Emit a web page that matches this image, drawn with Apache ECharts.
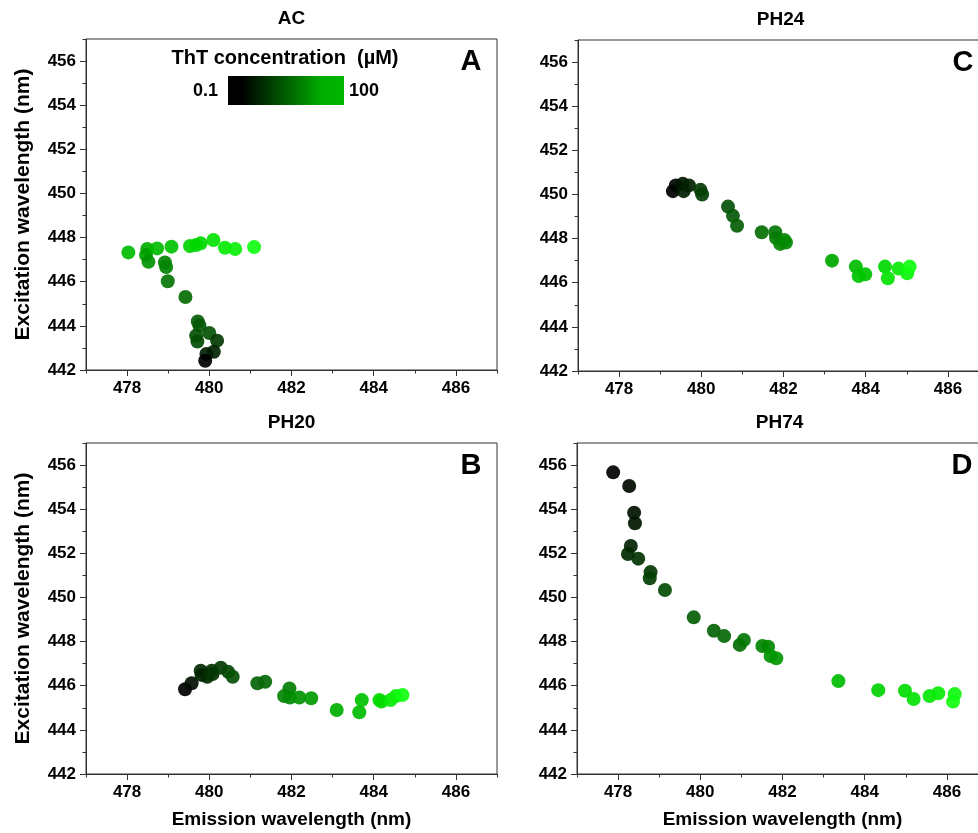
<!DOCTYPE html>
<html>
<head>
<meta charset="utf-8">
<script src="https://cdn.jsdelivr.net/npm/echarts@6/dist/echarts.min.js"></script>
<style>
  html, body { margin: 0; background: #fff; overflow: hidden; }
  #chart { width: 995px; height: 833px; }
</style>
</head>
<body>
<div id="chart"></div>
<script>
const xTicks = [478, 480, 482, 484, 486];
const xMinor = [477, 479, 481, 483, 485, 487];
const yTicks = [442, 444, 446, 448, 450, 452, 454, 456];
const yMinor = [443, 445, 447, 449, 451, 453, 455, 457];

// [emission nm, excitation nm, ThT level 0 (0.1 uM) .. 1 (100 uM)]
const acPoints = [
  [478.03, 447.33, 0.70], [478.49, 447.48, 0.65], [478.46, 447.21, 0.60],
  [478.52, 446.90, 0.55], [478.73, 447.51, 0.70], [479.08, 447.59, 0.72],
  [478.92, 446.87, 0.50], [478.95, 446.67, 0.50], [478.99, 446.02, 0.45],
  [479.42, 445.31, 0.42], [479.53, 447.62, 0.78], [479.68, 447.66, 0.80],
  [479.79, 447.74, 0.80], [480.10, 447.89, 0.85], [480.38, 447.54, 0.90],
  [480.63, 447.48, 0.92], [481.09, 447.57, 1.00], [479.72, 444.20, 0.35],
  [479.76, 444.02, 0.33], [480.00, 443.68, 0.30], [479.68, 443.56, 0.30],
  [479.71, 443.29, 0.28], [480.19, 443.33, 0.20], [480.11, 442.83, 0.12],
  [479.93, 442.73, 0.10], [479.90, 442.42, 0.00]
];
const ph24Points = [
  [479.31, 450.15, 0.00], [479.38, 450.41, 0.02], [479.55, 450.48, 0.08],
  [479.57, 450.15, 0.10], [479.70, 450.41, 0.12], [479.98, 450.21, 0.20],
  [480.02, 450.00, 0.22], [480.65, 449.45, 0.30], [480.77, 449.03, 0.33],
  [480.87, 448.58, 0.35], [481.47, 448.29, 0.42], [481.80, 448.29, 0.45],
  [481.82, 448.02, 0.47], [481.92, 447.76, 0.50], [482.02, 447.94, 0.50],
  [482.06, 447.82, 0.52], [483.18, 447.00, 0.62], [483.76, 446.73, 0.70],
  [483.83, 446.30, 0.72], [483.99, 446.38, 0.73], [484.47, 446.73, 0.80],
  [484.54, 446.20, 0.85], [484.80, 446.64, 0.88], [485.01, 446.43, 0.95],
  [485.07, 446.73, 1.00]
];
const ph20Points = [
  [479.41, 445.84, 0.00], [479.57, 446.11, 0.05], [479.79, 446.68, 0.15],
  [479.81, 446.49, 0.12], [479.95, 446.41, 0.14], [480.06, 446.68, 0.17],
  [480.08, 446.53, 0.18], [480.28, 446.82, 0.20], [480.46, 446.63, 0.25],
  [480.57, 446.41, 0.30], [481.17, 446.11, 0.38], [481.36, 446.18, 0.40],
  [481.82, 445.53, 0.50], [481.95, 445.88, 0.48], [481.96, 445.47, 0.52],
  [482.19, 445.47, 0.55], [482.48, 445.43, 0.58], [483.10, 444.90, 0.65],
  [483.65, 444.80, 0.70], [483.71, 445.35, 0.72], [484.14, 445.35, 0.80],
  [484.19, 445.28, 0.82], [484.41, 445.35, 0.88], [484.54, 445.53, 0.92],
  [484.70, 445.58, 1.00]
];
const ph74Points = [
  [477.88, 455.67, 0.00], [478.27, 455.05, 0.03], [478.39, 453.84, 0.06],
  [478.41, 453.36, 0.08], [478.31, 452.33, 0.12], [478.24, 451.97, 0.14],
  [478.49, 451.76, 0.18], [478.79, 451.15, 0.20], [478.77, 450.87, 0.22],
  [479.14, 450.34, 0.28], [479.84, 449.10, 0.35], [480.33, 448.49, 0.38],
  [480.58, 448.25, 0.40], [480.96, 447.85, 0.42], [481.06, 448.07, 0.45],
  [481.51, 447.80, 0.50], [481.65, 447.77, 0.52], [481.71, 447.35, 0.55],
  [481.85, 447.24, 0.57], [483.36, 446.21, 0.70], [484.33, 445.80, 0.78],
  [484.98, 445.77, 0.82], [485.19, 445.40, 0.85], [485.58, 445.53, 0.88],
  [485.79, 445.66, 0.90], [486.19, 445.62, 0.97], [486.15, 445.28, 1.00]
];

const FONT = 'Liberation Sans, Arial, sans-serif';
const axisColor = '#333';

const panels = [
  { title: 'AC',   tag: 'A', data: acPoints,   left: 86,  top: 39,  yName: true,  xName: false },
  { title: 'PH24', tag: 'C', data: ph24Points, left: 578, top: 40,  yName: false, xName: false },
  { title: 'PH20', tag: 'B', data: ph20Points, left: 86,  top: 443, yName: true,  xName: true },
  { title: 'PH74', tag: 'D', data: ph74Points, left: 577, top: 443, yName: false, xName: true }
];
const plotW = 411, plotH = 331;

const grid = [], xAxis = [], yAxis = [], series = [], graphic = [];
const labelStyle = { fontSize: 17, fontWeight: 'bold', color: '#000', fontFamily: FONT };

panels.forEach(function (p, i) {
  grid.push({
    left: p.left, top: p.top, width: plotW, height: plotH,
    show: true, borderColor: axisColor, borderWidth: 1, backgroundColor: 'transparent'
  });
  xAxis.push({
    type: 'value', gridIndex: i, min: 477, max: 487, position: 'bottom',
    axisLine: { show: true, onZero: false, lineStyle: { color: axisColor } },
    axisTick: { show: true, customValues: xTicks, length: 6, lineStyle: { color: axisColor } },
    axisLabel: Object.assign({ customValues: xTicks, margin: 10 }, labelStyle),
    splitLine: { show: false },
    name: p.xName ? 'Emission wavelength (nm)' : '',
    nameLocation: 'middle', nameGap: 36,
    nameTextStyle: { fontSize: 19, fontWeight: 'bold', color: '#000', fontFamily: FONT }
  });
  xAxis.push({
    type: 'value', gridIndex: i, min: 477, max: 487, position: 'bottom',
    axisLine: { show: false },
    axisTick: { show: true, customValues: xMinor, length: 3.5, lineStyle: { color: axisColor } },
    axisLabel: { show: false }, splitLine: { show: false }
  });
  yAxis.push({
    type: 'value', gridIndex: i, min: 442, max: 457, position: 'left',
    axisLine: { show: true, onZero: false, lineStyle: { color: axisColor } },
    axisTick: { show: true, customValues: yTicks, length: 6, lineStyle: { color: axisColor } },
    axisLabel: Object.assign({ customValues: yTicks, margin: 10 }, labelStyle),
    splitLine: { show: false },
    name: p.yName ? 'Excitation wavelength (nm)' : '',
    nameLocation: 'middle', nameGap: 52,
    nameTextStyle: { fontSize: 21, fontWeight: 'bold', color: '#000', fontFamily: FONT }
  });
  yAxis.push({
    type: 'value', gridIndex: i, min: 442, max: 457, position: 'left',
    axisLine: { show: false },
    axisTick: { show: true, customValues: yMinor, length: 3.5, lineStyle: { color: axisColor } },
    axisLabel: { show: false }, splitLine: { show: false }
  });
  series.push({
    type: 'scatter', xAxisIndex: 2 * i, yAxisIndex: 2 * i,
    data: p.data, symbolSize: 14,
    itemStyle: { opacity: 0.92 }
  });
  graphic.push({
    type: 'text', x: p.left + plotW / 2 - (i % 2 ? 3 : 0), y: p.top - 20,
    style: { text: p.title, font: 'bold 19px ' + FONT, fill: '#000',
             align: 'center', verticalAlign: 'middle', textAlign: 'center', textVerticalAlign: 'middle' }
  });
  graphic.push({
    type: 'text', x: p.left + 385, y: p.top + 23,
    style: { text: p.tag, font: 'bold 29px ' + FONT, fill: '#000',
             align: 'center', verticalAlign: 'middle', textAlign: 'center', textVerticalAlign: 'middle' }
  });
});

// colour bar legend in panel A
graphic.push({
  type: 'rect', shape: { x: 228, y: 76, width: 116, height: 29 },
  style: {
    fill: new echarts.graphic.LinearGradient(0, 0, 1, 0, [
      { offset: 0, color: '#000000' },
      { offset: 0.12, color: '#000000' },
      { offset: 0.5, color: '#005e00' },
      { offset: 0.82, color: '#00b000' },
      { offset: 1, color: '#00b400' }
    ])
  }
});
graphic.push({
  type: 'text', x: 285, y: 58,
  style: { text: 'ThT concentration  (\u00b5M)', font: 'bold 20px ' + FONT, fill: '#000',
           align: 'center', verticalAlign: 'middle', textAlign: 'center', textVerticalAlign: 'middle' }
});
graphic.push({
  type: 'text', x: 218, y: 91,
  style: { text: '0.1', font: 'bold 18px ' + FONT, fill: '#000',
           align: 'right', verticalAlign: 'middle', textAlign: 'right', textVerticalAlign: 'middle' }
});
graphic.push({
  type: 'text', x: 349, y: 91,
  style: { text: '100', font: 'bold 18px ' + FONT, fill: '#000',
           align: 'left', verticalAlign: 'middle', textAlign: 'left', textVerticalAlign: 'middle' }
});

const chart = echarts.init(document.getElementById('chart'));
chart.setOption({
  backgroundColor: '#fff',
  animation: false,
  grid: grid,
  xAxis: xAxis,
  yAxis: yAxis,
  visualMap: {
    type: 'continuous', show: false, dimension: 2, min: 0, max: 1,
    seriesIndex: [0, 1, 2, 3],
    inRange: { color: ['#000000', '#033a03', '#066806', '#00a000', '#00d800', '#10ff10'] }
  },
  series: series,
  graphic: graphic
});
</script>
</body>
</html>
